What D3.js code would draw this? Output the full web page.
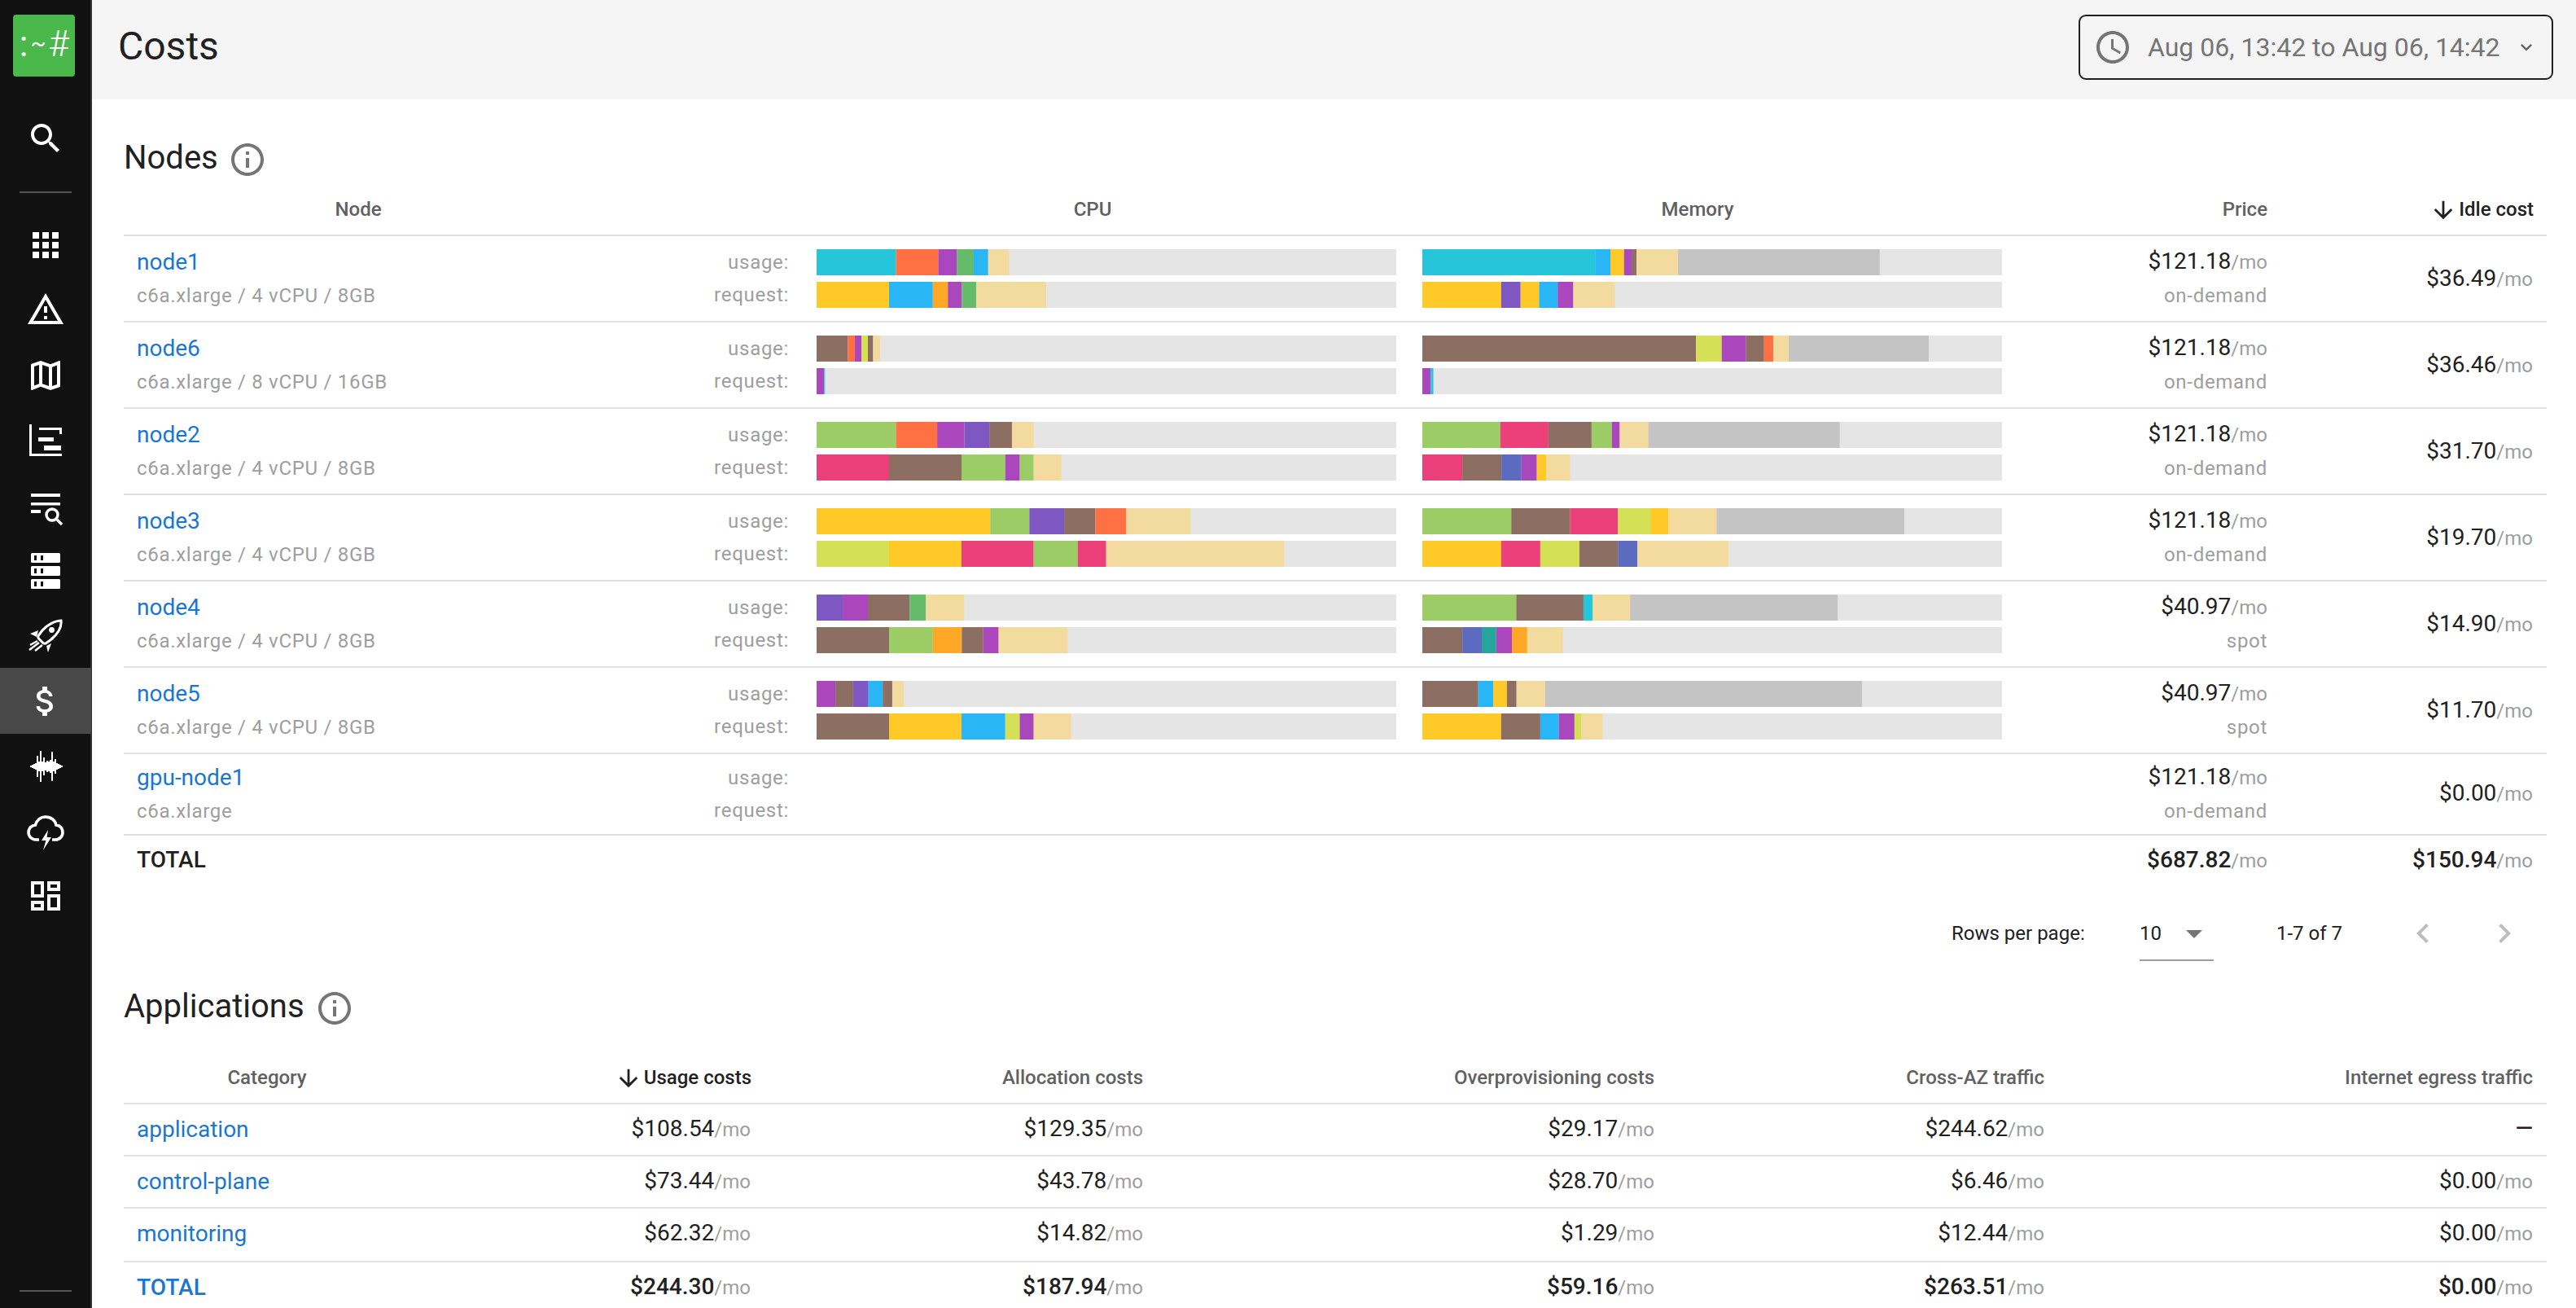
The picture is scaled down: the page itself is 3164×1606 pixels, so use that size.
<!DOCTYPE html>
<html>
<head>
<meta charset="utf-8">
<title>Costs</title>
<script src="https://cdn.jsdelivr.net/npm/d3@7"></script>
<style>
    html, body { margin: 0; padding: 0; background: #fff; overflow: hidden; }
    text { font-family: Roboto, sans-serif; }
</style>
</head>
<body>
<script>
// --- data ---
var node_names = ["node1", "node6", "node2", "node3", "node4", "node5", "gpu-node1"];
var node_specs = ["c6a.xlarge / 4 vCPU / 8GB", "c6a.xlarge / 8 vCPU / 16GB", "c6a.xlarge / 4 vCPU / 8GB",
    "c6a.xlarge / 4 vCPU / 8GB", "c6a.xlarge / 4 vCPU / 8GB", "c6a.xlarge / 4 vCPU / 8GB", "c6a.xlarge"];
var node_prices = [121.18, 121.18, 121.18, 121.18, 40.97, 40.97, 121.18];
var node_types = ["on-demand", "on-demand", "on-demand", "on-demand", "spot", "spot", "on-demand"];
var node_idle = [36.49, 36.46, 31.70, 19.70, 14.90, 11.70, 0.00];
var nodes_total = {price: 687.82, idle: 150.94};

// each bar is a list of [workload, percent of node capacity]. gpu-node1 has no bars.
var cpu_usage = [
    [["cyan", 13.7], ["orange", 7.3], ["purple", 3.2], ["green", 2.9], ["sky", 2.5], ["system", 3.6]],
    [["brown", 5.4], ["orange", 1.2], ["purple", 1.15], ["lime", 1.1], ["brown", 0.9], ["system", 1.2]],
    [["leaf", 13.7], ["orange", 7.1], ["purple", 4.7], ["violet", 4.3], ["brown", 3.9], ["system", 3.75]],
    [["yellow", 29.95], ["leaf", 6.75], ["violet", 6.0], ["brown", 5.4], ["orange", 5.3], ["system", 11.1]],
    [["violet", 4.5], ["purple", 4.35], ["brown", 7.2], ["green", 2.8], ["system", 6.6]],
    [["purple", 3.25], ["brown", 3.05], ["violet", 2.65], ["sky", 2.45], ["brown", 1.65], ["system", 2.0]]
];
var cpu_request = [
    [["yellow", 12.5], ["sky", 7.55], ["amber", 2.6], ["purple", 2.4], ["green", 2.5], ["system", 12.05]],
    [["purple", 1.3], ["cyan", 0.14]],
    [["pink", 12.5], ["brown", 12.5], ["leaf", 7.55], ["purple", 2.5], ["leaf", 2.4], ["system", 4.75]],
    [["lime", 12.5], ["yellow", 12.5], ["pink", 12.45], ["leaf", 7.6], ["pink", 4.9], ["system", 30.75]],
    [["brown", 12.5], ["leaf", 7.55], ["amber", 5.0], ["brown", 3.7], ["purple", 2.65], ["system", 11.9]],
    [["brown", 12.5], ["yellow", 12.5], ["sky", 7.55], ["lime", 2.5], ["purple", 2.4], ["system", 6.45]]
];
var mem_usage = [
    [["cyan", 29.8], ["sky", 2.65], ["yellow", 2.35], ["purple", 1.3], ["brown", 0.85], ["system", 7.15], ["cache", 34.8]],
    [["brown", 47.2], ["lime", 4.45], ["purple", 4.2], ["brown", 3.1], ["orange", 1.6], ["system", 2.65], ["cache", 24.15]],
    [["leaf", 13.45], ["pink", 8.3], ["brown", 7.45], ["leaf", 3.5], ["purple", 1.35], ["system", 4.95], ["cache", 33.0]],
    [["leaf", 15.35], ["brown", 10.15], ["pink", 8.25], ["lime", 5.6], ["yellow", 3.1], ["system", 8.3], ["cache", 32.4]],
    [["leaf", 16.2], ["brown", 11.6], ["cyan", 1.6], ["system", 6.45], ["cache", 35.8]],
    [["brown", 9.65], ["sky", 2.6], ["yellow", 2.35], ["brown", 1.65], ["system", 4.95], ["cache", 54.65]]
];
var mem_request = [
    [["yellow", 13.6], ["violet", 3.35], ["yellow", 3.2], ["sky", 3.2], ["purple", 2.7], ["system", 7.15]],
    [["purple", 1.45], ["cyan", 0.45]],
    [["pink", 6.9], ["brown", 6.75], ["indigo", 3.45], ["purple", 2.65], ["yellow", 1.65], ["system", 4.1]],
    [["yellow", 13.6], ["pink", 6.75], ["lime", 6.75], ["brown", 6.65], ["indigo", 3.35], ["system", 15.7]],
    [["brown", 6.9], ["indigo", 3.35], ["teal", 2.5], ["purple", 2.7], ["amber", 2.65], ["system", 6.15]],
    [["yellow", 13.6], ["brown", 6.75], ["sky", 3.2], ["purple", 2.7], ["lime", 1.2], ["system", 3.65]]
];

var app_names = ["application", "control-plane", "monitoring", "TOTAL"];
var app_usage = [108.54, 73.44, 62.32, 244.30];
var app_allocation = [129.35, 43.78, 14.82, 187.94];
var app_overprovisioning = [29.17, 28.70, 1.29, 59.16];
var app_cross_az = [244.62, 6.46, 12.44, 263.51];
var app_egress = [null, 0.00, 0.00, 0.00];

// --- styles ---
var workload_ids = ["cyan", "orange", "purple", "green", "sky", "system", "yellow", "amber", "brown",
    "lime", "leaf", "pink", "violet", "indigo", "teal", "cache"];
var workload_colors = ["#26c6da", "#ff7043", "#ab47bc", "#66bb6a", "#29b6f6", "#f3dba0", "#ffca28", "#ffa726", "#8d6e63",
    "#d4e157", "#9ccc65", "#ec407a", "#7e57c2", "#5c6bc0", "#26a69a", "#c4c4c4"];
var color = d3.scaleOrdinal(workload_ids, workload_colors);

var BLUE = "#1976d2", DARK = "#212121", GREY = "#9e9e9e", HEAD = "#616161", RULE = "#e0e0e0";
var NAV_BG = "#111111";

var svg = d3.select("body").append("svg")
    .attr("width", 3164)
    .attr("height", 1606)
    .style("display", "block");

function label(x, y, str, size, fill, anchor, weight) {
    return svg.append("text")
        .attr("x", x)
        .attr("y", y)
        .attr("font-size", size)
        .attr("fill", fill)
        .attr("text-anchor", anchor || "start")
        .attr("font-weight", weight || 400)
        .text(str);
}

// the small grey captions are tracked out a little
function caption(x, y, str, anchor) {
    return label(x, y, str, 24, GREY, anchor).attr("letter-spacing", 0.7);
}

function money(x, y, value, weight) {
    var t = label(x, y, d3.format("$.2f")(value), 28, DARK, "end", weight);
    t.append("tspan").attr("font-size", 24).attr("fill", GREY).attr("font-weight", 400).text("/mo");
}

function icon(d, cx, cy, fill, scale) {
    // material icons live in a 24 unit box
    var s = scale || 2;
    return svg.append("path")
        .attr("transform", "translate(" + (cx - 12 * s) + "," + (cy - 12 * s) + ") scale(" + s + ")")
        .attr("d", d)
        .attr("fill", fill);
}

function rule(y) {
    svg.append("rect").attr("x", 152).attr("y", y - 1).attr("width", 2976).attr("height", 2).attr("fill", RULE);
}

// --- page chrome ---
svg.append("rect").attr("x", 112).attr("width", 3052).attr("height", 122).attr("fill", "#f5f5f5");
svg.append("rect").attr("width", 112).attr("height", 1606).attr("fill", NAV_BG);
svg.append("rect").attr("x", 111).attr("width", 2).attr("height", 1606).attr("fill", "#333333");
svg.append("rect").attr("y", 820).attr("width", 112).attr("height", 81).attr("fill", "#484848");
svg.append("rect").attr("x", 16).attr("y", 18).attr("width", 76).attr("height", 76).attr("rx", 4).attr("fill", "#4bb84b");
label(29, 69, ":", 44, "#fff", "middle");
label(47, 62, "~", 28, "#fff", "middle");
label(72, 69, "#", 44, "#fff", "middle").attr("font-weight", 300);

[236, 1585].forEach(function (y) {
    svg.append("rect").attr("x", 24).attr("y", y - 1).attr("width", 64).attr("height", 2).attr("fill", "#555");
});

var nav_icons = [
    [170, "M15.5 14h-.79l-.28-.27C15.41 12.59 16 11.11 16 9.5 16 5.91 13.09 3 9.5 3S3 5.91 3 9.5 5.91 16 9.5 16c1.61 0 3.09-.59 4.23-1.57l.27.28v.79l5 4.99L20.49 19l-4.99-5zm-6 0C7.01 14 5 11.99 5 9.5S7.01 5 9.5 5 14 7.01 14 9.5 11.99 14 9.5 14z"],
    [301, "M4 8h4V4H4v4zm6 12h4v-4h-4v4zm-6 0h4v-4H4v4zm0-6h4v-4H4v4zm6 0h4v-4h-4v4zm6-10v4h4V4h-4zm-6 4h4V4h-4v4zm6 6h4v-4h-4v4zm0 6h4v-4h-4v4z"],
    [380, "M12 5.99L19.53 19H4.47L12 5.99M12 2L1 21h22L12 2zm1 14h-2v2h2v-2zm0-6h-2v4h2v-4z"],
    [461, "M20.5 3l-.16.03L15 5.1 9 3 3.36 4.9c-.21.07-.36.25-.36.48V20.5c0 .28.22.5.5.5l.16-.03L9 18.9l6 2.1 5.64-1.9c.21-.07.36-.25.36-.48V3.5c0-.28-.22-.5-.5-.5zM10 5.47l4 1.4v11.66l-4-1.4V5.47zm-5 .99l3-1.01v11.7l-3 1.16V6.46zm14 11.08l-3 1.01V6.86l3-1.16v11.84z"],
    [541, "M2 2h1.5v18H22v1.5H2zM8 4h14v4h-1.5V5.5H8zM7.5 10H17v2.5H7.5zM11 15h10.5v3H11z"],
    [861, "M11.8 10.9c-2.27-.59-3-1.2-3-2.15 0-1.09 1.01-1.85 2.7-1.85 1.78 0 2.44.85 2.5 2.1h2.21c-.07-1.72-1.12-3.3-3.21-3.81V3h-3v2.16c-1.94.42-3.5 1.68-3.5 3.61 0 2.31 1.91 3.46 4.7 4.13 2.5.6 3 1.48 3 2.41 0 .69-.49 1.79-2.7 1.79-2.06 0-2.87-.92-2.98-2.1h-2.2c.12 2.19 1.76 3.42 3.68 3.83V21h3v-2.15c1.95-.37 3.5-1.5 3.5-3.55 0-2.84-2.43-3.81-4.7-4.4z"],
    [1100, "M19 5v2h-4V5h4M9 5v6H5V5h4m10 8v6h-4v-6h4M9 17v2H5v-2h4M21 3h-8v6h8V3zM11 3H3v10h8V3zm10 8h-8v10h8V11zm-10 4H3v6h8v-6z"]
];
nav_icons.forEach(function (n) {
    icon(n[1], 56, n[0], "#fff");
});

// the log search one, hand drawn
icon("M3 3h18v2H3zM3 8.5h18v1.7H3zM3 13h6v2H3z", 56, 624, "#fff");
svg.append("path").attr("d", "M70 638l6 6").attr("stroke", "#fff").attr("stroke-width", 3.4).attr("fill", "none");
svg.append("circle").attr("cx", 64).attr("cy", 632).attr("r", 7).attr("fill", "none").attr("stroke", "#fff").attr("stroke-width", 3.4);

// servers: three slabs with two dark dots each
[679, 695, 711].forEach(function (y) {
    svg.append("rect").attr("x", 38).attr("y", y).attr("width", 36).attr("height", 12).attr("rx", 1.5).attr("fill", "#fff");
    [42, 50].forEach(function (x) {
        svg.append("rect").attr("x", x).attr("y", y + 3).attr("width", 3).attr("height", 6).attr("fill", NAV_BG);
    });
});

// rocket
var rocket = svg.append("g");
rocket.append("path")
    .attr("d", "M75 762C68 762 58 767 52 774L47.5 780Q46 782 47.5 784L53 789.5Q55 791 57 789.5L63 785C71 778 76 770 75 762Z")
    .attr("fill", "none").attr("stroke", "#fff").attr("stroke-width", 3);
rocket.append("circle").attr("cx", 63.5).attr("cy", 773.5).attr("r", 3.4).attr("fill", "#fff");
rocket.append("path").attr("d", "M37 778L47 774L45 782ZM63 790L57 793L59 801Z").attr("fill", "#fff");
rocket.append("path").attr("d", "M46 787L37 792M48 789L36 798M52 792L43 799")
    .attr("fill", "none").attr("stroke", "#fff").attr("stroke-width", 2.4);

// events waveform
var wave_heights = [1, 2, 3, 4, 13, 6, 19, 6, 11, 5, 7, 6, 8, 18, 6, 9, 4, 3, 2, 1];
svg.append("g").selectAll("rect")
    .data(wave_heights)
    .join("rect")
    .attr("x", function (d, i) { return 37 + i * 2; })
    .attr("y", function (d) { return 941 - d; })
    .attr("width", 2)
    .attr("height", function (d) { return d * 2; })
    .attr("fill", "#fff");

// cloud + bolt
var cloud = svg.append("g").attr("transform", "translate(32,996) scale(2)");
cloud.append("path")
    .attr("d", "M8 17.5H6.2C3.6 17.5 1.5 15.6 1.5 13c0-2.4 1.9-4.3 4.2-4.5C6.6 5.5 9 3.5 12 3.5c3.3 0 6 2.2 6.5 5 2.4.2 4 2.2 4 4.5 0 2.5-2 4.5-4.5 4.5H16")
    .attr("fill", "none").attr("stroke", "#fff").attr("stroke-width", 1.8);
cloud.append("path").attr("d", "M13.5 11.5L9.5 18h2.7L10.5 24l5-8h-2.7z").attr("fill", "#fff");

// --- header ---
label(145, 73, "Costs", 48, DARK);
svg.append("rect").attr("x", 2554).attr("y", 19).attr("width", 581).attr("height", 78).attr("rx", 8)
    .attr("fill", "none").attr("stroke", DARK).attr("stroke-width", 2);
icon("M11.99 2C6.47 2 2 6.48 2 12s4.47 10 9.99 10C17.52 22 22 17.52 22 12S17.52 2 11.99 2zM12 20c-4.42 0-8-3.58-8-8s3.58-8 8-8 8 3.58 8 8-3.58 8-8 8zm.5-13H11v6l5.25 3.15.75-1.23-4.5-2.67z", 2595, 58, "#757575");
label(2638, 69, "Aug 06, 13:42 to Aug 06, 14:42", 32, "#757575");
icon("M16.59 8.59L12 13.17 7.41 8.59 6 10l6 6 6-6z", 3103, 58, "#616161", 1.15);

var INFO = "M11 7h2v2h-2zm0 4h2v6h-2zm1-9C6.48 2 2 6.48 2 12s4.48 10 10 10 10-4.48 10-10S17.52 2 12 2zm0 18c-4.41 0-8-3.59-8-8s3.59-8 8-8 8 3.59 8 8-3.59 8-8 8z";
var ARROW = "M20 12l-1.41-1.41L13 16.17V4h-2v12.17l-5.58-5.59L4 12l8 8 8-8z";

// --- nodes table ---
label(152, 207, "Nodes", 40, DARK);
icon(INFO, 304, 196, "#757575");

label(440, 265, "Node", 24, HEAD, "middle", 500);
label(1342, 265, "CPU", 24, HEAD, "middle", 500);
label(2085, 265, "Memory", 24, HEAD, "middle", 500);
label(2785, 265, "Price", 24, HEAD, "end", 500);
label(3112, 265, "Idle cost", 24, DARK, "end", 500);
icon(ARROW, 3001, 258, DARK, 1.4);

var row_top = d3.scaleLinear().domain([0, 1]).range([289, 395]);
var cpu_x = d3.scaleLinear().domain([0, 100]).range([1003, 1715]);
var mem_x = d3.scaleLinear().domain([0, 100]).range([1747, 2459]);
var BAR_H = 32;

function draw_bar(parts, x, y) {
    var g = svg.append("g");
    g.append("rect")
        .attr("x", x(0)).attr("y", y)
        .attr("width", x(100) - x(0)).attr("height", BAR_H)
        .attr("fill", "#e5e5e5");

    var start = 0;
    g.selectAll("rect.part")
        .data(parts)
        .join("rect")
        .attr("class", "part")
        .attr("x", function (d) { var at = x(start); start += d[1]; return at; })
        .attr("y", y)
        .attr("width", function (d) { return x(d[1]) - x(0); })
        .attr("height", BAR_H)
        .attr("fill", function (d) { return color(d[0]); });
}

node_names.forEach(function (name, i) {
    var top = row_top(i);
    rule(top);

    // gpu row has no bars so it's a bit shorter
    var nudge = i === 6 ? -3 : 0;
    label(168, top + 42 + nudge, name, 28, BLUE);
    caption(168, top + 82 + nudge, node_specs[i]);
    caption(969, top + 41 + nudge, "usage:", "end");
    caption(969, top + 81 + nudge, "request:", "end");

    money(2785, top + 41 + nudge, node_prices[i]);
    caption(2785, top + 82 + nudge, node_types[i], "end");
    money(3111, top + 62 + (i === 6 ? -4 : 0), node_idle[i]);

    if (i < 6) {
        draw_bar(cpu_usage[i], cpu_x, top + 17);
        draw_bar(cpu_request[i], cpu_x, top + 57);
        draw_bar(mem_usage[i], mem_x, top + 17);
        draw_bar(mem_request[i], mem_x, top + 57);
    }
});
rule(1025);
label(168, 1065, "TOTAL", 28, DARK, "start", 500);
money(2785, 1065, nodes_total.price, 500);
money(3111, 1065, nodes_total.idle, 500);

// pagination
label(2397, 1154, "Rows per page:", 24, DARK);
label(2628, 1154, "10", 24, DARK);
svg.append("path").attr("d", d3.line()([[2685, 1142], [2705, 1142], [2695, 1152]]) + "Z").attr("fill", "#757575");
svg.append("rect").attr("x", 2628).attr("y", 1178).attr("width", 91).attr("height", 2).attr("fill", GREY);
label(2796, 1154, "1-7 of 7", 24, DARK);
icon("M15.41 7.41L14 6l-6 6 6 6 1.41-1.41L10.83 12z", 2976, 1146, "#bdbdbd");
icon("M10 6L8.59 7.41 13.17 12l-4.58 4.59L10 18l6-6z", 3076, 1146, "#bdbdbd");

// --- applications table ---
label(152, 1249, "Applications", 40, DARK);
icon(INFO, 411, 1238, "#757575");

label(328, 1331, "Category", 24, HEAD, "middle", 500);
label(923, 1331, "Usage costs", 24, DARK, "end", 500);
icon(ARROW, 772, 1324, DARK, 1.4);
label(1404, 1331, "Allocation costs", 24, HEAD, "end", 500);
label(2032, 1331, "Overprovisioning costs", 24, HEAD, "end", 500);
label(2511, 1331, "Cross-AZ traffic", 24, HEAD, "end", 500);
label(3111, 1331, "Internet egress traffic", 24, HEAD, "end", 500);

var app_rows = [1355, 1419, 1483, 1549];
var app_columns = [[922, app_usage], [1404, app_allocation], [2032, app_overprovisioning], [2511, app_cross_az], [3111, app_egress]];

app_names.forEach(function (name, i) {
    var top = app_rows[i];
    var weight = name === "TOTAL" ? 500 : 400;
    rule(top);
    label(168, top + 41, name, 28, BLUE, "start", weight);
    app_columns.forEach(function (col) {
        var v = col[1][i];
        if (v === null) {
            label(col[0], top + 40, "\u2014", 28, DARK, "end", 500);
        } else {
            money(col[0], top + 40, v, weight);
        }
    });
});
</script>
</body>
</html>
